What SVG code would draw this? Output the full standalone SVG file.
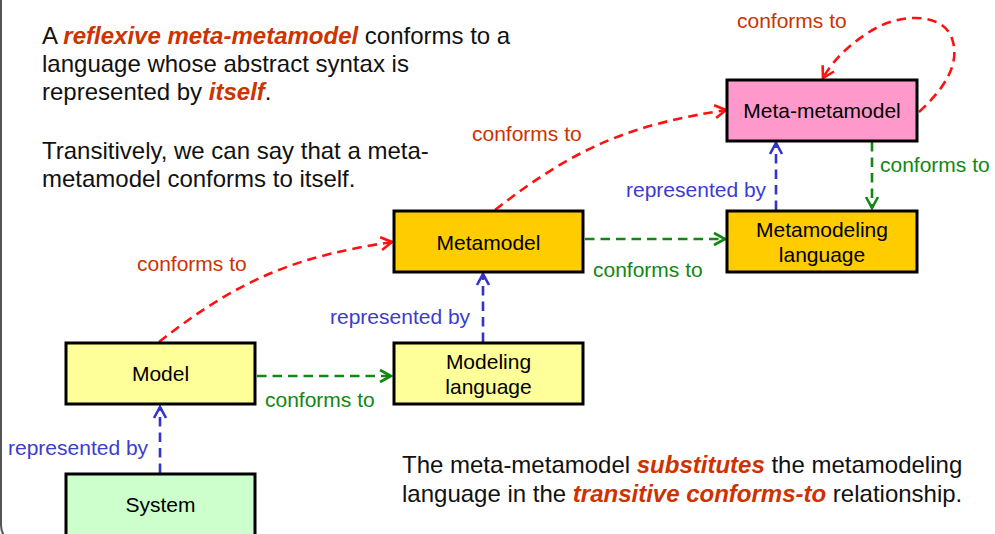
<svg xmlns="http://www.w3.org/2000/svg" width="995" height="534" viewBox="0 0 995 534">
<style>
text{font-family:"Liberation Sans",Arial,sans-serif}
.body{font-size:24px;fill:#111}
.hl{font-weight:bold;font-style:italic;fill:#cc3300}
.nl{font-size:21px;fill:#000;text-anchor:middle}
.lbl{font-size:21px}
.lr{fill:#cc3300}.lg{fill:#118811}.lb{fill:#3c3cd0}
.box{stroke:#000;stroke-width:3}
.c{fill:none;stroke-width:2.6;stroke-dasharray:9.5,6}
.cr{stroke:#ff1111;marker-end:url(#ar)}
.cg{stroke:#118811;marker-end:url(#ag)}
.cb{stroke:#3333cc;marker-end:url(#ab)}
</style>
<defs>
<marker id="ar" markerUnits="userSpaceOnUse" markerWidth="16" markerHeight="16" refX="13" refY="8" orient="auto"><path d="M2,1.5 L13,8 L2,14.5" fill="none" stroke="#ff1111" stroke-width="2.6"/></marker>
<marker id="ag" markerUnits="userSpaceOnUse" markerWidth="16" markerHeight="16" refX="13" refY="8" orient="auto"><path d="M2,2 L13,8 L2,14" fill="none" stroke="#118811" stroke-width="2.6"/></marker>
<marker id="ab" markerUnits="userSpaceOnUse" markerWidth="16" markerHeight="16" refX="13" refY="8" orient="auto"><path d="M2,2 L13,8 L2,14" fill="none" stroke="#3333cc" stroke-width="2.6"/></marker>
</defs>
<rect x="1" y="-30" width="1020" height="575" rx="20" fill="#fff" stroke="#555" stroke-width="2"/>

<g id="text-top">
<text class="body" x="42" y="44">A <tspan class="hl">reflexive meta-metamodel</tspan> conforms to a</text>
<text class="body" x="42" y="72">language whose abstract syntax is</text>
<text class="body" x="42" y="100">represented by <tspan class="hl">itself</tspan>.</text>
<text class="body" x="42" y="159">Transitively, we can say that a meta-</text>
<text class="body" x="42" y="187">metamodel conforms to itself.</text>
</g>
<g id="text-bottom">
<text class="body" x="402" y="473">The meta-metamodel <tspan class="hl">substitutes</tspan> the metamodeling</text>
<text class="body" x="402" y="502">language in the <tspan class="hl">transitive conforms-to</tspan> relationship.</text>
</g>

<g id="connectors">
<path class="c cr" d="M159,342 C 243,276 300,256 392,242"/>
<path class="c cr" d="M495,210 C 579,144 636,124 726,110"/>
<path class="c cr" d="M919,112 C 945,88 962,62 951,36 C 941,14 905,14 880,26 C 856,38 834,58 823,78"/>
<path class="c cg" d="M257,376 L391,376"/>
<path class="c cg" d="M585,239 L725,239"/>
<path class="c cg" d="M872,142 L872,208"/>
<path class="c cb" d="M160,473 L160,407"/>
<path class="c cb" d="M483,342 L483,274"/>
<path class="c cb" d="M776,210 L776,143"/>
<text class="lbl lr" x="737" y="28">conforms to</text>
<text class="lbl lr" x="472" y="141">conforms to</text>
<text class="lbl lr" x="137" y="271">conforms to</text>
<text class="lbl lg" x="880" y="172">conforms to</text>
<text class="lbl lg" x="593" y="277">conforms to</text>
<text class="lbl lg" x="265" y="407">conforms to</text>
<text class="lbl lb" x="626" y="197">represented by</text>
<text class="lbl lb" x="330" y="324">represented by</text>
<text class="lbl lb" x="8" y="455">represented by</text>
</g>

<g id="meta-metamodel">
<rect class="box" x="727" y="80" width="190" height="61" fill="#ff99cc"/>
<text class="nl" x="822" y="118">Meta-metamodel</text>
</g>
<g id="metamodeling-language">
<rect class="box" x="727" y="211" width="190" height="61" fill="#ffcc00"/>
<text class="nl" x="822" y="237">Metamodeling</text>
<text class="nl" x="822" y="262">language</text>
</g>
<g id="metamodel">
<rect class="box" x="394" y="211" width="189" height="61" fill="#ffcc00"/>
<text class="nl" x="488.5" y="250">Metamodel</text>
</g>
<g id="modeling-language">
<rect class="box" x="394" y="343" width="189" height="61" fill="#ffff99"/>
<text class="nl" x="488.5" y="369">Modeling</text>
<text class="nl" x="488.5" y="394">language</text>
</g>
<g id="model">
<rect class="box" x="66" y="343" width="189" height="61" fill="#ffff99"/>
<text class="nl" x="160.5" y="381">Model</text>
</g>
<g id="system">
<rect class="box" x="66" y="474" width="189" height="70" fill="#ccffcc"/>
<text class="nl" x="160.5" y="512">System</text>
</g>
</svg>
